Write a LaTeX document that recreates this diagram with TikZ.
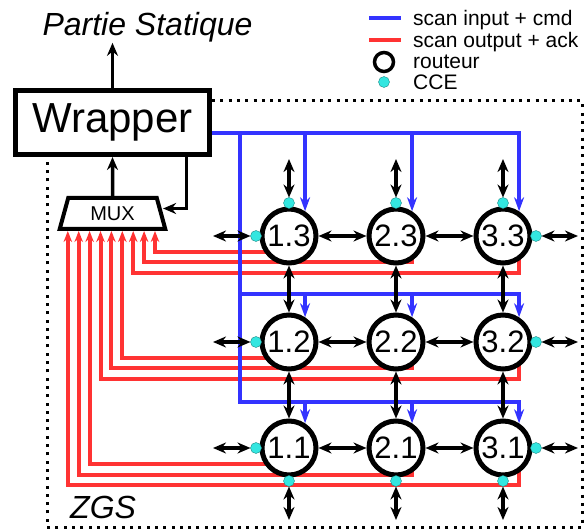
\documentclass[tikz,border=0pt]{standalone}
\usepackage{fontspec}
\setmainfont{Liberation Sans}
\usetikzlibrary{arrows.meta,positioning,shapes.geometric,backgrounds}
\definecolor{scanblue}{HTML}{3333FF}
\definecolor{scanred}{HTML}{FF3333}
\definecolor{ccecyan}{HTML}{33E6E0}

\begin{document}
\begin{tikzpicture}[x=1pt,y=-1pt,>={Stealth[length=13pt,width=11pt]},
 router/.style={draw,circle,fill=white,line width=5pt,minimum size=54pt,inner sep=0pt,font=\fontsize{31}{31}\selectfont},
 cce/.style={circle,fill=ccecyan,draw=ccecyan!60!black,line width=0.4pt,minimum size=11pt,inner sep=0pt,outer sep=0pt},
 link/.style={line width=3.5pt,<->},
 wire/.style={line width=3.5pt,->},
 scanin/.style={draw=scanblue,line width=4.5pt,-{Stealth[length=14pt,width=10pt]}},
 scanout/.style={draw=scanred,line width=4pt,-{Stealth[length=11pt,width=8.5pt]}},
 wrapbox/.style={draw,fill=white,line width=5pt,minimum width=194pt,minimum height=64pt,inner sep=0pt,font=\fontsize{42}{42}\selectfont},
 muxbox/.style={draw,fill=white,trapezium,trapezium angle=73,trapezium stretches=true,line width=4pt,minimum width=106pt,minimum height=31pt,inner sep=0pt,font=\fontsize{20}{20}\selectfont},
 title/.style={inner sep=0pt,font=\fontsize{32}{32}\selectfont\itshape},
 lab/.style={inner sep=0pt,anchor=base west,font=\fontsize{21}{21}\selectfont},
 frame/.style={line width=3pt,dash pattern=on 3pt off 5.3pt}]
\useasboundingbox (0,0) rectangle (584,529);
\node[wrapbox] (wrap) at (112.5,122.5) {Wrapper};
\node[title,anchor=base] (ps) at (147.5,36) {Partie Statique};
\node[muxbox] (mux) at (112.5,213.5) {MUX};
\node[title,anchor=base west] (zgs) at (70,518) {ZGS};
\draw[frame] (212,101) -| (582,527) -| (47,157);
\foreach \c in {1,2,3}
 \foreach \r in {1,2,3}
  \node[router] (r\c\r) at ({182+107*\c},{554-106*\r}) {\c.\r};
\foreach \k in {0,...,8}
 \coordinate (in\k) at ([xshift={(42.5-10.9*\k)*1pt}]mux.south);
\coordinate (bus) at ([yshift=-10.5pt]wrap.east);
\coordinate (bus2) at (240,294);
\coordinate (bus1) at (240,402);
\begin{scope}[on background layer]
\foreach \r in {1,2,3}
 \foreach \c in {1,2,3}{
  \pgfmathtruncatemacro\k{(3-\r)*3+\c-1}
  \pgfmathsetmacro\dy{16+10.5*(\c-1)}
  \draw[scanout] ([xshift=16pt]r\c\r.center) -- ++(0,\dy) -| (in\k);
 }
\draw[scanin] (bus) -| (r33.57);
\draw[scanin] (bus) -| (bus1) -| (r31.57);
\draw[scanin] (bus2) -| (r32.57);
\foreach \c in {1,2}{
 \draw[scanin] (bus -| r\c3.57) -- (r\c3.57);
 \draw[scanin] (bus2 -| r\c2.57) -- (r\c2.57);
 \draw[scanin] (bus1 -| r\c1.57) -- (r\c1.57);
}
\end{scope}
\draw[wire] (wrap.north) -- (wrap.north |- ps.south);
\draw[wire] (mux) -- (wrap);
\draw[wire] ([xshift=74pt]wrap.south) |- ([yshift=5pt]mux.east);
\foreach \r in {1,2,3}{
 \draw[link] (r1\r) -- (r2\r);
 \draw[link] (r2\r) -- (r3\r);
}
\foreach \c in {1,2,3}{
 \draw[link] (r\c1) -- (r\c2);
 \draw[link] (r\c2) -- (r\c3);
}
\foreach \c in {1,2,3}{
 \node[cce,above=-2pt of r\c3] (cn\c) {};
 \node[cce,below=-2pt of r\c1] (cs\c) {};
 \coordinate[above=38.5pt of cn\c] (on\c);
 \coordinate[below=33.5pt of cs\c] (os\c);
 \draw[link] (cn\c) -- (on\c);
 \draw[link] (cs\c) -- (os\c);
}
\foreach \r in {1,2,3}{
 \node[cce,left=-2pt of r1\r] (cw\r) {};
 \node[cce,right=-2pt of r3\r] (ce\r) {};
 \coordinate[left=37.5pt of cw\r] (ow\r);
 \coordinate[right=36.5pt of ce\r] (oe\r);
 \draw[link] (cw\r) -- (ow\r);
 \draw[link] (ce\r) -- (oe\r);
}
\node[lab] (lin) at (413,26) {scan input + cmd};
\node[lab] (lout) at (413,48) {scan output + ack};
\node[lab] (lrt) at (413,69) {routeur};
\node[lab] (lcce) at (413,90) {CCE};
\draw[scanin,-] (369,18) -- (401,18);
\draw[scanout,-] (369,40) -- (401,40);
\node[draw,circle,line width=3.5pt,minimum size=19pt,inner sep=0pt] (lrtsym) at (384,62) {};
\node[cce] (lccesym) at (384,82) {};
\end{tikzpicture}
\end{document}
